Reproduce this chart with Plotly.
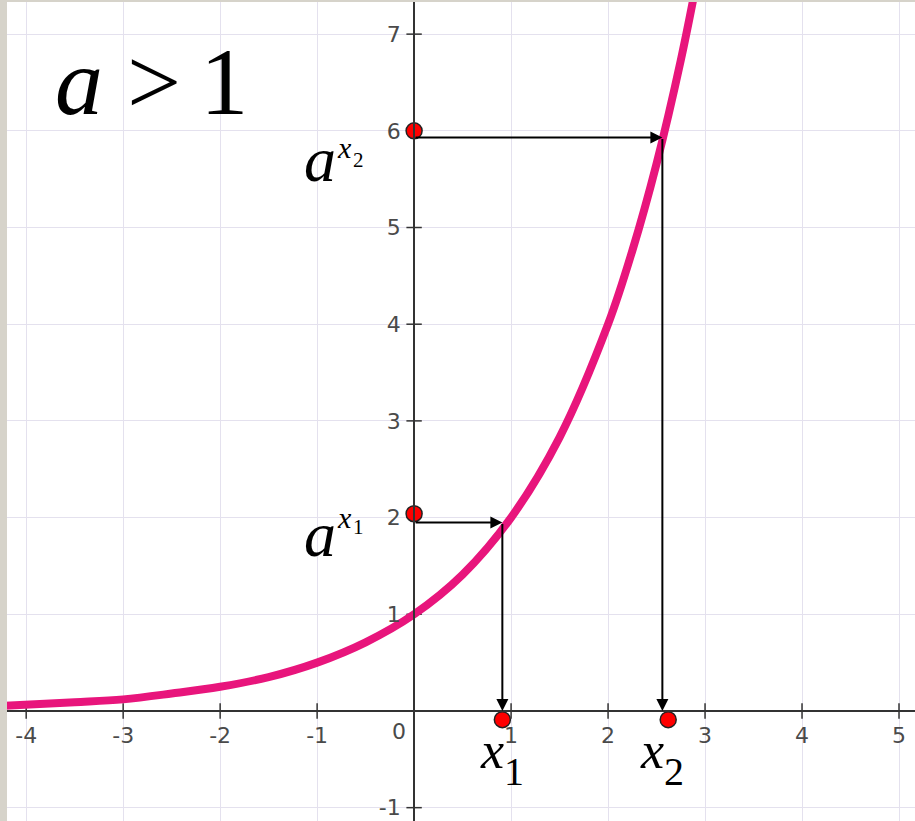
import plotly.graph_objects as go

# curve
curve_x = [-4.3, -3.5, -3.0, -2.5, -2.0, -1.5, -1.0, -0.5, 0.0, 0.5, 1.0, 1.5, 2.0, 2.25, 2.5, 2.75, 2.95]
curve_y = [0.05, 0.09, 0.12, 0.18, 0.25, 0.35, 0.5, 0.71, 1.0, 1.41, 2.0, 2.83, 4.0, 4.76, 5.66, 6.73, 7.73]

# red points
dots_x = [0.0, 0.0, 0.91, 2.62]
dots_y = [6.0, 2.04, -0.09, -0.09]

# arrow corners (x on the curve, y level)
arrow_x = [0.91, 2.56]
arrow_y = [1.95, 5.93]

x_ticks = [-4, -3, -2, -1, 1, 2, 3, 4, 5]
x_labels = ["-4", "-3", "-2", "-1", "1", "2", "3", "4", "5"]
y_ticks = [-1, 1, 2, 3, 4, 5, 6, 7]
y_labels = ["-1", "1", "2", "3", "4", "5", "6", "7"]

x_range = [-4.27, 5.165]
y_range = [-1.138, 7.353]

AXIS = "#333333"
GRID = "#e4e1ee"
TICKFONT = dict(family="DejaVu Sans", size=22, color="#4a4a4a")
SERIF = "Liberation Serif"

fig = go.Figure()

# tick marks crossing the axes
fig.add_trace(go.Scatter(
    x=x_ticks, y=[0] * len(x_ticks), mode="markers", hoverinfo="skip",
    marker=dict(symbol="line-ns-open", size=11, color=AXIS, line=dict(width=1.5, color=AXIS)),
))
fig.add_trace(go.Scatter(
    x=[0] * len(y_ticks), y=y_ticks, mode="markers", hoverinfo="skip",
    marker=dict(symbol="line-ew-open", size=11, color=AXIS, line=dict(width=1.5, color=AXIS)),
))

fig.add_trace(go.Scatter(
    x=curve_x, y=curve_y, mode="lines", line=dict(color="#e8157c", width=8, shape="spline"),
))

# arrows: horizontal from y axis to the curve, then down to the x axis
for ax_, ay_ in zip(arrow_x, arrow_y):
    fig.add_annotation(x=ax_, y=ay_, ax=0, ay=ay_, axref="x", ayref="y", text="",
                       showarrow=True, arrowhead=2, arrowsize=1.2, arrowwidth=2,
                       arrowcolor="black", standoff=0)
    fig.add_annotation(x=ax_, y=0.0, ax=ax_, ay=ay_, axref="x", ayref="y", text="",
                       showarrow=True, arrowhead=2, arrowsize=1.2, arrowwidth=2,
                       arrowcolor="black", standoff=0)

fig.add_trace(go.Scatter(
    x=dots_x, y=dots_y, mode="markers",
    marker=dict(size=16, color="#ff0000", line=dict(width=1.5, color="#222222")),
))


def label(x, y, text, size, anchor="left"):
    fig.add_annotation(x=x, y=y, xanchor=anchor, yanchor="middle", showarrow=False,
                       text=text, font=dict(family=SERIF, size=size, color="black"))


# math labels
label(-3.72, 6.51, "<i>a</i> &gt;&#8201;1", 96)
for ya, yx, yd, n in [(5.70, 5.83, 5.70, "2"), (1.82, 2.0, 1.90, "1")]:
    label(-0.97, ya, "<i>a</i>", 64, anchor="center")
    label(-0.814, yx, "<i>x</i>", 30)
    label(-0.655, yd, n, 21)
for xl, n in [(0.66, "1"), (2.31, "2")]:
    label(xl, -0.41, "<i>x</i>", 52)
    label(xl + 0.25, -0.625, n, 40)

# origin label sits left of the y axis
fig.add_annotation(x=-0.155, y=-0.21, showarrow=False, text="0", font=TICKFONT)

# window frame strips
fig.add_shape(type="rect", xref="paper", yref="paper", x0=0, x1=7 / 915, y0=0, y1=1,
              fillcolor="#d6d3ca", line_width=0, layer="above")
fig.add_shape(type="rect", xref="paper", yref="paper", x0=0, x1=1, y0=1 - 2 / 821, y1=1,
              fillcolor="#d6d3ca", line_width=0, layer="above")

fig.update_layout(
    width=915, height=821, margin=dict(l=0, r=0, t=0, b=0),
    plot_bgcolor="white", paper_bgcolor="white", showlegend=False,
    xaxis=dict(range=x_range, tickvals=x_ticks, ticktext=x_labels, showgrid=True, gridcolor=GRID,
               gridwidth=1, zeroline=False, showline=True, linecolor=AXIS, linewidth=2, ticks="",
               anchor="free", position=(0 - y_range[0]) / (y_range[1] - y_range[0]),
               tickfont=TICKFONT, ticklabelstandoff=5, automargin=False, fixedrange=True),
    yaxis=dict(range=y_range, tickvals=y_ticks, ticktext=y_labels, showgrid=True, gridcolor=GRID,
               gridwidth=1, zeroline=False, showline=True, linecolor=AXIS, linewidth=2, ticks="",
               anchor="free", position=(0 - x_range[0]) / (x_range[1] - x_range[0]),
               tickfont=TICKFONT, ticklabelstandoff=8, automargin=False, fixedrange=True),
)

fig.write_html("out.html", config={"displayModeBar": False},
               post_script="document.body.style.margin='0';")
